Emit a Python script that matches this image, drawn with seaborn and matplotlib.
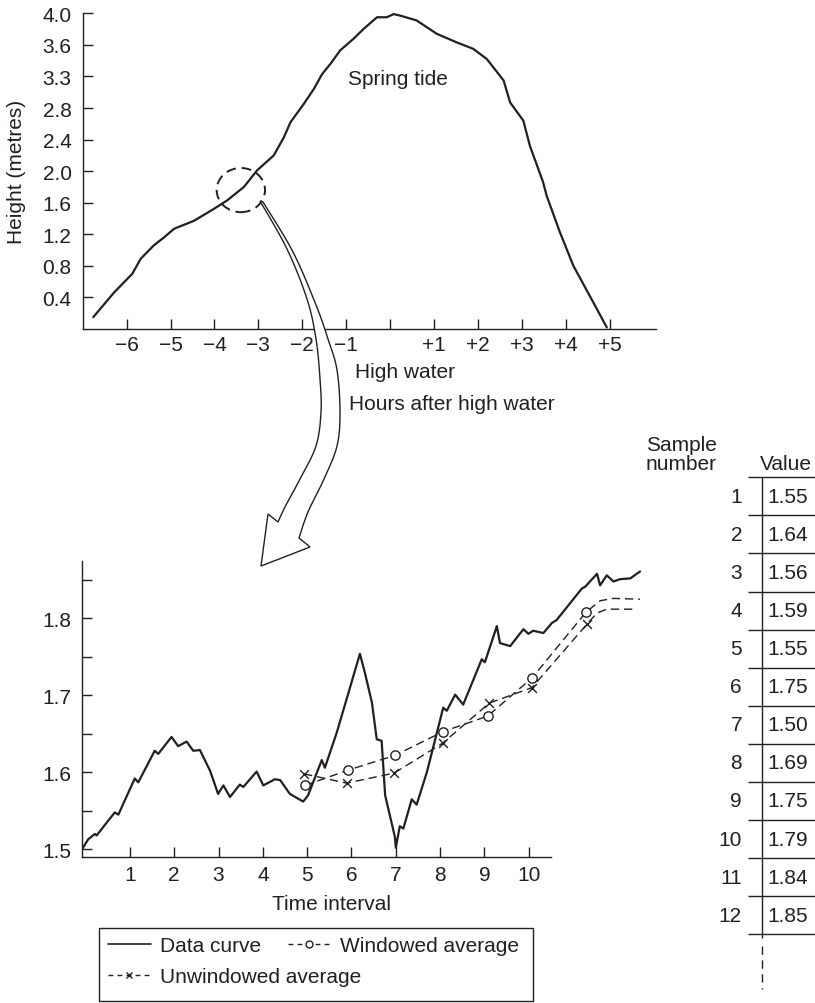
import numpy as np
import matplotlib
matplotlib.use("Agg")
import matplotlib.pyplot as plt
import seaborn as sns
from matplotlib.patches import Ellipse, PathPatch, Rectangle
from matplotlib.path import Path
from matplotlib.lines import Line2D

# --- top panel: spring tide curve (hours from high water, height in metres)
tide_hours = [-6.76, -6.29, -5.87, -5.68, -5.38, -5.15, -4.92, -4.47, -4.02, -3.71,
              -3.33, -3.03, -2.65, -2.42, -2.27, -1.97, -1.74, -1.55, -1.36, -1.14,
              -0.83, -0.61, -0.30, -0.08, 0.08, 0.23, 0.60, 1.06, 1.52, 1.89,
              2.20, 2.58, 2.73, 3.03, 3.18, 3.48, 3.56, 3.86, 4.17, 4.62, 4.93]
tide_height = [0.15, 0.46, 0.70, 0.89, 1.06, 1.16, 1.27, 1.37, 1.52, 1.63,
               1.80, 2.01, 2.20, 2.43, 2.62, 2.85, 3.04, 3.23, 3.36, 3.53,
               3.68, 3.80, 3.95, 3.95, 3.99, 3.97, 3.91, 3.74, 3.63, 3.55,
               3.42, 3.15, 2.87, 2.64, 2.32, 1.86, 1.69, 1.23, 0.80, 0.34, 0.02]
tide_ytick_labels = ["0.4", "0.8", "1.2", "1.6", "2.0", "2.4", "2.8", "3.3", "3.6", "4.0"]
tide_xtick_labels = ["\u22126", "\u22125", "\u22124", "\u22123", "\u22122", "\u22121", "",
                     "+1", "+2", "+3", "+4", "+5"]

# --- bottom panel: zoomed data curve and the two running averages
data_t = [-0.08, 0.06, 0.21, 0.25, 0.66, 0.74, 1.11, 1.19, 1.56, 1.64,
          1.94, 2.09, 2.28, 2.43, 2.58, 2.81, 2.99, 3.11, 3.26, 3.48,
          3.56, 3.86, 4.01, 4.27, 4.39, 4.61, 4.91, 5.02, 5.33, 5.40,
          5.67, 6.19, 6.30, 6.46, 6.57, 6.68, 6.76, 6.98, 7.00, 7.09,
          7.17, 7.36, 7.47, 7.70, 8.07, 8.15, 8.34, 8.52, 8.94, 9.01,
          9.28, 9.35, 9.58, 9.88, 9.99, 10.10, 10.33, 10.52, 10.63, 11.20,
          11.27, 11.54, 11.61, 11.76, 11.91, 12.06, 12.29, 12.51]
data_v = [1.500, 1.513, 1.520, 1.518, 1.548, 1.545, 1.592, 1.587, 1.628, 1.624,
          1.646, 1.634, 1.640, 1.628, 1.629, 1.602, 1.572, 1.583, 1.568, 1.584,
          1.581, 1.601, 1.583, 1.591, 1.590, 1.572, 1.562, 1.570, 1.616, 1.606,
          1.652, 1.754, 1.730, 1.691, 1.643, 1.641, 1.570, 1.516, 1.502, 1.530,
          1.527, 1.565, 1.558, 1.600, 1.684, 1.680, 1.701, 1.688, 1.747, 1.743,
          1.790, 1.768, 1.764, 1.786, 1.780, 1.784, 1.781, 1.794, 1.798, 1.839,
          1.841, 1.858, 1.843, 1.856, 1.848, 1.851, 1.852, 1.861]

win_t = [4.95, 5.93, 6.98, 8.07, 9.07, 10.08, 11.29, 11.61, 11.91, 12.51]
win_v = [1.583, 1.603, 1.622, 1.653, 1.673, 1.723, 1.808, 1.823, 1.826, 1.825]
win_mark_t = [4.95, 5.93, 6.98, 8.07, 9.07, 10.08, 11.29]
win_mark_v = [1.583, 1.603, 1.622, 1.653, 1.673, 1.723, 1.808]

unwin_t = [4.93, 5.89, 6.96, 8.06, 9.11, 10.07, 11.32, 11.54, 11.76, 12.44]
unwin_v = [1.598, 1.586, 1.599, 1.638, 1.690, 1.710, 1.793, 1.807, 1.812, 1.812]
unwin_mark_t = [4.93, 5.89, 6.96, 8.06, 9.11, 10.07, 11.32]
unwin_mark_v = [1.598, 1.586, 1.599, 1.638, 1.690, 1.710, 1.793]

# --- sample table
sample_no = [1, 2, 3, 4, 5, 6, 7, 8, 9, 10, 11, 12]
sample_val = [1.55, 1.64, 1.56, 1.59, 1.55, 1.75, 1.50, 1.69, 1.75, 1.79, 1.84, 1.85]

INK = "#231f20"
FS = 15

sns.set_theme(style="ticks")
plt.rcParams["font.family"] = ["Liberation Sans", "DejaVu Sans"]
plt.rcParams.update({
    "text.color": INK, "axes.edgecolor": INK, "axes.labelcolor": INK,
    "xtick.color": INK, "ytick.color": INK, "axes.linewidth": 1.0,
    "axes.unicode_minus": True,
})

W, H = 815, 1004
fig = plt.figure(figsize=(W / 100, H / 100), dpi=100)
fig.patch.set_facecolor("white")


def fx(px):
    return px / W


def fy(py):
    return 1 - py / H


def style_axes(ax, pad_x, pad_y):
    sns.despine(ax=ax)
    ax.set_facecolor("white")
    ax.tick_params(axis="both", which="both", direction="in", length=7, width=1,
                   labelsize=FS)
    ax.tick_params(axis="x", which="both", pad=pad_x)
    ax.tick_params(axis="y", which="both", pad=pad_y)


# ---------------- top panel ----------------
ax1 = fig.add_axes([fx(82.7), fy(330), fx(656) - fx(82.7), (330 - 14.3) / H])
sns.lineplot(x=tide_hours, y=tide_height, ax=ax1, color=INK, lw=1.6,
             sort=False, estimator=None)
ax1.set_xlim(-7, 6.05)
ax1.set_ylim(0, 4.0)
ax1.set_yticks(np.arange(1, 11) * 0.4)
ax1.set_yticklabels(tide_ytick_labels)
ax1.set_xticks(np.arange(-6, 6))
ax1.set_xticklabels(tide_xtick_labels)
ax1.set_xlabel("")
ax1.set_ylabel("")
style_axes(ax1, 4, 8)

ax1.text(-0.95, 3.17, "Spring tide", fontsize=FS, ha="left", va="center")
ax1.add_patch(Ellipse((-3.40, 1.76), 1.10, 0.56, fill=False, ec=INK, lw=1.4,
                      ls=(0, (5, 3)), clip_on=False))

fig.text(fx(17), fy(172), "Height (metres)", rotation=90, ha="center", va="center",
         fontsize=FS)
fig.text(fx(355), fy(372), "High water", ha="left", va="center", fontsize=FS)
fig.text(fx(349), fy(405), "Hours after high water", ha="left", va="center", fontsize=FS)

# ---------------- bottom panel ----------------
ax2 = fig.add_axes([fx(82), fy(858), fx(644) - fx(82), (858 - 561.7) / H])
sns.lineplot(x=data_t, y=data_v, ax=ax2, color=INK, lw=1.6, sort=False, estimator=None)
sns.lineplot(x=win_t, y=win_v, ax=ax2, color=INK, lw=1.0, ls=(0, (6, 3.5)),
             sort=False, estimator=None)
sns.lineplot(x=unwin_t, y=unwin_v, ax=ax2, color=INK, lw=1.0, ls=(0, (6, 3.5)),
             sort=False, estimator=None)
sns.scatterplot(x=win_mark_t, y=win_mark_v, ax=ax2, marker="o", s=45,
                facecolor="white", edgecolor=INK, linewidth=1.0, zorder=4)
sns.scatterplot(x=unwin_mark_t, y=unwin_mark_v, ax=ax2, marker="x", s=40,
                color=INK, linewidth=1.0, zorder=4)
ax2.set_xlim(-0.08, 12.6)
ax2.set_ylim(1.49, 1.875)
ax2.set_xticks(np.arange(1, 11))
ax2.set_yticks([1.5, 1.6, 1.7, 1.8])
ax2.set_yticks([1.55, 1.65, 1.75, 1.85], minor=True)
ax2.set_xlabel("")
ax2.set_ylabel("")
style_axes(ax2, 6, 8)
ax2.spines["bottom"].set_bounds(-0.08, 10.5)
ax2.spines["left"].set_bounds(1.49, 1.875)
fig.text(fx(331), fy(905), "Time interval", ha="center", va="center", fontsize=FS)


# ---------------- curved hollow arrow ----------------
def catmull(pts, n=14):
    pts = np.asarray(pts, float)
    p = np.vstack([pts[0], pts, pts[-1]])
    out = []
    for i in range(1, len(p) - 2):
        p0, p1, p2, p3 = p[i - 1], p[i], p[i + 1], p[i + 2]
        for t in np.linspace(0, 1, n, endpoint=False):
            out.append(0.5 * (2 * p1 + (-p0 + p2) * t
                              + (2 * p0 - 5 * p1 + 4 * p2 - p3) * t ** 2
                              + (-p0 + 3 * p1 - 3 * p2 + p3) * t ** 3))
    out.append(pts[-1])
    return np.array(out)


left_edge = [(260, 202), (287, 250), (307, 300), (316, 340), (320, 380), (321, 413),
             (316, 447), (300, 480), (285, 508), (278, 523)]
right_edge = [(263, 203), (293, 253), (316, 306), (328, 340), (337, 371), (340, 413),
              (337, 447), (324, 480), (308, 513), (299, 539)]
head = [(268, 515), (261, 567), (310, 548)]
outline = np.vstack([catmull(left_edge), head, catmull(right_edge)[::-1]])
outline = np.column_stack([outline[:, 0] / W, 1 - outline[:, 1] / H])
codes = [Path.MOVETO] + [Path.LINETO] * (len(outline) - 1) + [Path.CLOSEPOLY]
arrow_path = Path(np.vstack([outline, outline[:1]]), codes)
fig.add_artist(PathPatch(arrow_path, transform=fig.transFigure, fc="white", ec=INK,
                         lw=1.0, zorder=5))

# ---------------- sample table ----------------
axt = fig.add_axes([fx(640), fy(1000), fx(815) - fx(640), (1000 - 440) / H])
axt.set_xlim(0, 175)
axt.set_ylim(13.70, -1.006)
axt.axis("off")
axt.hlines(np.arange(len(sample_no) + 1), 108, 175, color=INK, lw=1.0, clip_on=False)
axt.vlines(122, 0, len(sample_no) + 0.1, color=INK, lw=1.0)
axt.vlines(122, len(sample_no) + 0.3, 13.44, color=INK, lw=1.0, linestyles=(0, (6, 4)))
for i, (n, v) in enumerate(zip(sample_no, sample_val)):
    axt.text(102, i + 0.5, str(n), ha="right", va="center", fontsize=FS)
    axt.text(127, i + 0.5, f"{v:.2f}", ha="left", va="center", fontsize=FS)
axt.text(41, -0.62, "Sample\nnumber", ha="center", va="center", fontsize=FS,
         linespacing=1.0)
axt.text(172, -0.35, "Value", ha="right", va="center", fontsize=FS)

# ---------------- legend (box plus two frameless legends) ----------------
dash = (0, (3.5, 3))
h_data = Line2D([], [], color=INK, lw=1.2)
h_unwin = Line2D([], [], color=INK, lw=1.0, ls=dash, marker="x", ms=5, mew=1.0)
h_win = Line2D([], [], color=INK, lw=1.0, ls=dash, marker="o", ms=5, mfc="white", mew=1.0)
leg_kw = dict(loc="upper left", fontsize=FS, frameon=False, handlelength=2.05,
              handletextpad=0.45, labelspacing=0.6, borderpad=0, borderaxespad=0)
leg1 = fig.legend([h_data, h_unwin], ["Data curve", "Unwindowed average"],
                  bbox_to_anchor=(fx(108), fy(937)), **leg_kw)
leg2 = fig.legend([h_win], ["Windowed average"],
                  bbox_to_anchor=(fx(288), fy(937)), **leg_kw)
fig.add_artist(Rectangle((fx(99.3), fy(1002.3)), fx(532.7) - fx(99.3),
                         (1002.3 - 929.3) / H, transform=fig.transFigure,
                         fill=False, ec=INK, lw=1.0))

fig.savefig("out.png", dpi=100, facecolor="white")
